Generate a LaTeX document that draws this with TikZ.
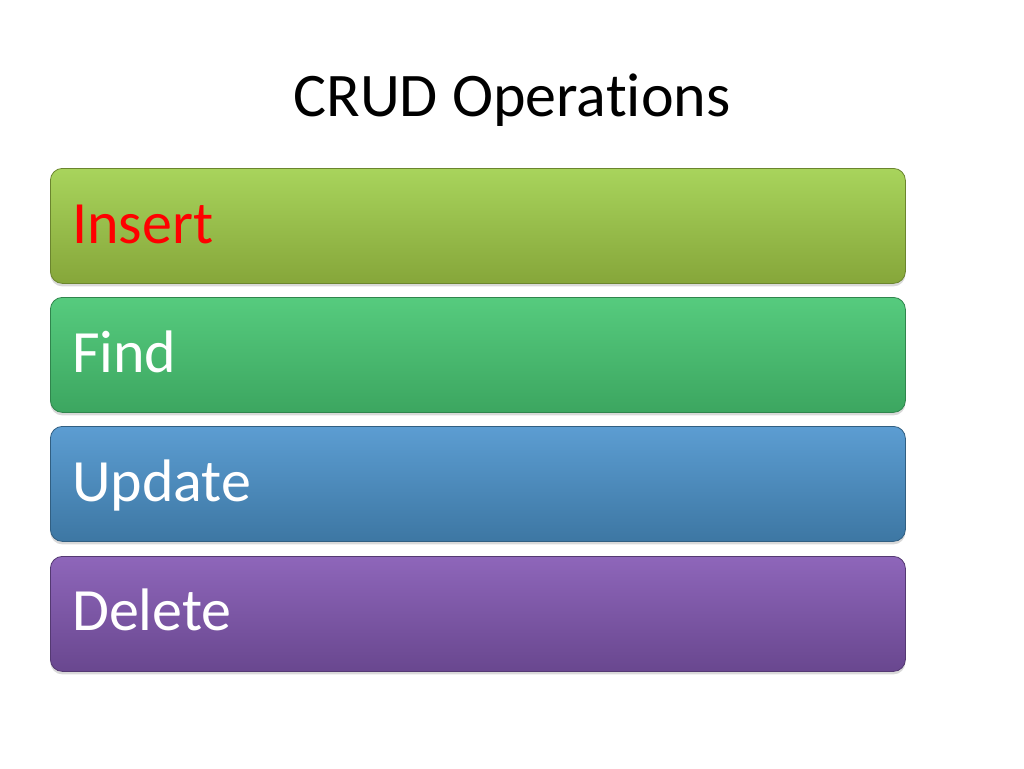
\documentclass[tikz,border=0pt]{standalone}
\usepackage{fontspec}
\setmainfont[Ligatures={NoCommon,NoRare}]{Carlito}
\usetikzlibrary{shadows}
\definecolor{insT}{HTML}{A8D45C}\definecolor{insB}{HTML}{86A63A}
\definecolor{finT}{HTML}{56CB7E}\definecolor{finB}{HTML}{3CA660}
\definecolor{updT}{HTML}{5C9DD2}\definecolor{updB}{HTML}{3D77A3}
\definecolor{delT}{HTML}{8E66BA}\definecolor{delB}{HTML}{69478F}
\tikzset{
  bar/.style n args={2}{rounded corners=12pt, top color=#1, bottom color=#2, draw=#2!80!black, line width=0.8pt,
    minimum width=855pt, minimum height=115pt, anchor=north west, inner sep=0pt,
    drop shadow={shadow xshift=0pt, shadow yshift=-3pt, opacity=0.3}},
  lbl/.style={anchor=base west, inner sep=0pt, font=\fontsize{60}{64}\selectfont, text=white}
}
\begin{document}
\begin{tikzpicture}[x=1pt,y=-1pt]
\useasboundingbox (0,0) rectangle (1024,768);
\node[font=\fontsize{62}{68}\selectfont, anchor=base] (title) at (512,116) {CRUD Operations};
\node[bar={insT}{insB}] (ins) at (50,168) {};
\node[bar={finT}{finB}] (fin) at (50,297) {};
\node[bar={updT}{updB}] (upd) at (50,426) {};
\node[bar={delT}{delB}] (del) at (50,556) {};
\node[lbl, text=red] (tins) at (72,243) {Insert};
\node[lbl] (tfin) at (72,372) {Find};
\node[lbl] (tupd) at (72,501) {Update};
\node[lbl] (tdel) at (72,630) {Delete};
\end{tikzpicture}
\end{document}
